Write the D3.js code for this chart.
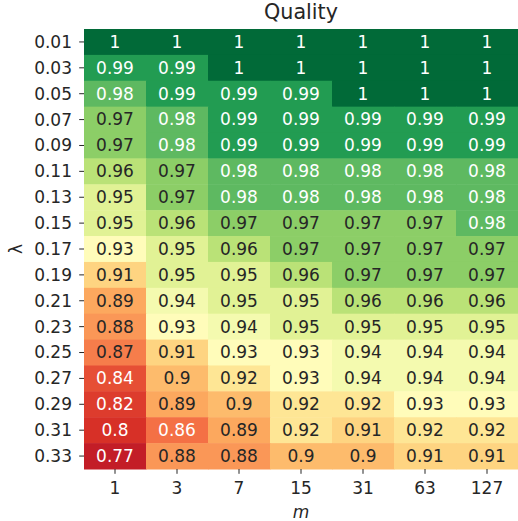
<!DOCTYPE html>
<html>
<head>
<meta charset="utf-8">
<script src="https://cdn.jsdelivr.net/npm/d3@7"></script>
<style>
  html, body { margin: 0; padding: 0; background: #fff; }
  svg { display: block; font-family: "DejaVu Sans", sans-serif; }
</style>
</head>
<body>
<svg id="chart" width="518" height="521"></svg>
<script>
// m values (columns) and lambda values (rows)
const mValues = ["1", "3", "7", "15", "31", "63", "127"];
const lambdas = ["0.01", "0.03", "0.05", "0.07", "0.09", "0.11", "0.13", "0.15", "0.17",
                 "0.19", "0.21", "0.23", "0.25", "0.27", "0.29", "0.31", "0.33"];

// Quality per lambda row, one entry per m column
const quality = [
  [1, 1, 1, 1, 1, 1, 1],
  [0.99, 0.99, 1, 1, 1, 1, 1],
  [0.98, 0.99, 0.99, 0.99, 1, 1, 1],
  [0.97, 0.98, 0.99, 0.99, 0.99, 0.99, 0.99],
  [0.97, 0.98, 0.99, 0.99, 0.99, 0.99, 0.99],
  [0.96, 0.97, 0.98, 0.98, 0.98, 0.98, 0.98],
  [0.95, 0.97, 0.98, 0.98, 0.98, 0.98, 0.98],
  [0.95, 0.96, 0.97, 0.97, 0.97, 0.97, 0.98],
  [0.93, 0.95, 0.96, 0.97, 0.97, 0.97, 0.97],
  [0.91, 0.95, 0.95, 0.96, 0.97, 0.97, 0.97],
  [0.89, 0.94, 0.95, 0.95, 0.96, 0.96, 0.96],
  [0.88, 0.93, 0.94, 0.95, 0.95, 0.95, 0.95],
  [0.87, 0.91, 0.93, 0.93, 0.94, 0.94, 0.94],
  [0.84, 0.9, 0.92, 0.93, 0.94, 0.94, 0.94],
  [0.82, 0.89, 0.9, 0.92, 0.92, 0.93, 0.93],
  [0.8, 0.86, 0.89, 0.92, 0.91, 0.92, 0.92],
  [0.77, 0.88, 0.88, 0.9, 0.9, 0.91, 0.91]
];

const W = 518, H = 521;
const margin = { top: 29, right: 0, bottom: 52, left: 84 };
const innerW = W - margin.left - margin.right;
const innerH = H - margin.top - margin.bottom;

const svg = d3.select("#chart");
const g = svg.append("g").attr("transform", `translate(${margin.left},${margin.top})`);

const x = d3.scaleBand().domain(mValues).range([0, innerW]).padding(0);
const y = d3.scaleBand().domain(lambdas).range([0, innerH]).padding(0);

// RdYlGn colour stops (ColorBrewer, 11 classes), linearly interpolated
const rdylgn = ["#a50026", "#d73027", "#f46d43", "#fdae61", "#fee08b", "#ffffbf",
                "#d9ef8b", "#a6d96a", "#66bd63", "#1a9850", "#006837"];
const cmap = d3.scaleLinear()
  .domain(d3.range(rdylgn.length).map(i => i / (rdylgn.length - 1)))
  .range(rdylgn)
  .interpolate(d3.interpolateRgb);

// non-linear normalisation from quality to colormap position
const norm = d3.scaleLinear()
  .domain([0.77, 0.80, 0.82, 0.84, 0.86, 0.87, 0.88, 0.89, 0.90, 0.91, 0.92, 0.93, 0.94, 0.95, 0.96, 0.97, 0.98, 0.99, 1.00])
  .range([0.06, 0.10, 0.12, 0.15, 0.205, 0.225, 0.265, 0.29, 0.325, 0.375, 0.42, 0.49, 0.53, 0.58, 0.66, 0.74, 0.81, 0.89, 0.995])
  .clamp(true);
const color = v => cmap(norm(v));

const cells = [];
lambdas.forEach((lam, i) => {
  mValues.forEach((m, j) => cells.push({ lam, m, v: quality[i][j] }));
});

g.selectAll("rect.cell")
  .data(cells)
  .join("rect")
  .attr("class", "cell")
  .attr("x", d => x(d.m))
  .attr("y", d => y(d.lam))
  .attr("width", x.bandwidth() + 0.5)
  .attr("height", y.bandwidth() + 0.5)
  .attr("fill", d => color(d.v));

const fmt = v => d3.format(".2~g")(v);
const fs = 17;

g.selectAll("text.annot")
  .data(cells)
  .join("text")
  .attr("class", "annot")
  .attr("x", d => x(d.m) + x.bandwidth() / 2)
  .attr("y", d => y(d.lam) + y.bandwidth() / 2 + fs * 0.345)
  .attr("text-anchor", "middle")
  .attr("font-size", fs)
  .attr("fill", d => (d.v <= 0.86 || d.v >= 0.98) ? "#ffffff" : "#262626")
  .text(d => fmt(d.v));

// axes
const xAxis = g.append("g")
  .attr("transform", `translate(0,${innerH})`)
  .call(d3.axisBottom(x).tickSize(4.8).tickPadding(4));
const yAxis = g.append("g")
  .call(d3.axisLeft(y).tickSize(4.8).tickPadding(7.2));

[xAxis, yAxis].forEach(ax => {
  ax.select(".domain").remove();
  ax.selectAll(".tick line").attr("stroke", "#262626").attr("stroke-width", 1);
  ax.selectAll(".tick text")
    .attr("fill", "#262626")
    .attr("font-size", fs)
    .attr("font-family", "DejaVu Sans, sans-serif");
});
xAxis.selectAll(".tick text").attr("dy", "0.71em").attr("y", 13.2);
yAxis.selectAll(".tick text").attr("dy", "0.35em");

// title and axis labels
svg.append("text")
  .attr("x", margin.left + innerW / 2)
  .attr("y", 19)
  .attr("text-anchor", "middle")
  .attr("font-size", 20.7)
  .attr("fill", "#262626")
  .text("Quality");

svg.append("text")
  .attr("x", margin.left + innerW / 2)
  .attr("y", 518)
  .attr("text-anchor", "middle")
  .attr("font-size", fs)
  .attr("font-style", "italic")
  .attr("fill", "#262626")
  .text("m");

svg.append("text")
  .attr("transform", `translate(21.5,${margin.top + innerH / 2}) rotate(-90)`)
  .attr("text-anchor", "middle")
  .attr("font-size", fs)
  .attr("fill", "#262626")
  .text("λ");
</script>
</body>
</html>
